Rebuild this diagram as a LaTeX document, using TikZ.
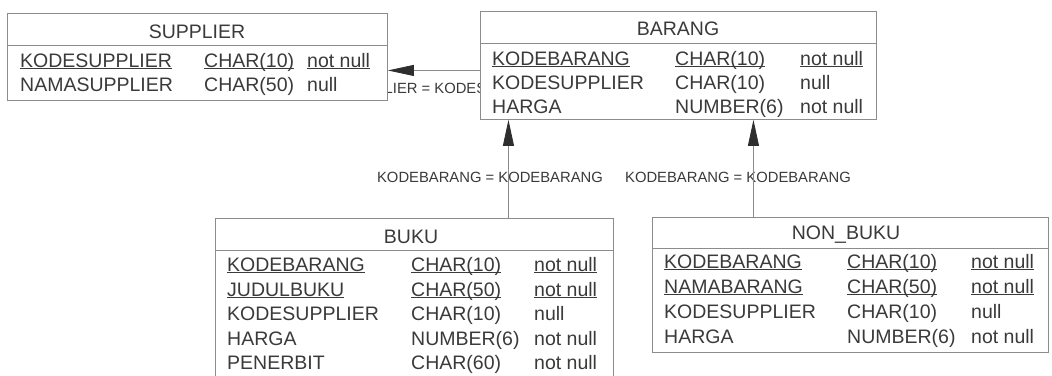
\documentclass[tikz,border=0pt]{standalone}
\usepackage{fontspec}
\setmainfont{Liberation Sans}
\usetikzlibrary{arrows.meta}
\definecolor{txt}{HTML}{3A3A3A}
\definecolor{frame}{HTML}{8C8C8C}
\definecolor{conn}{HTML}{8E8A8C}
\definecolor{head}{HTML}{2E2E2E}
\newcommand\keyul[1]{\underline{\smash{#1}}}
\tikzset{
  tbl/.style={draw=frame, fill=white, line width=0.9pt, inner sep=0pt, anchor=north west},
  divider/.style={draw=frame, line width=0.9pt},
  cell/.style={inner sep=0pt, anchor=base west, text=txt, font=\fontsize{19.5}{24}\selectfont},
  ttl/.style={inner sep=0pt, anchor=base, text=txt, font=\fontsize{19.5}{24}\selectfont},
  lbl/.style={inner sep=0pt, anchor=base, text=txt, font=\fontsize{14.8}{18}\selectfont},
  fk/.style={draw=conn, line width=0.8pt, -{Triangle[length=26pt,width=11pt,color=head]}},
}
\begin{document}
\begin{tikzpicture}[x=1pt,y=-1pt]
\clip (0,0) rectangle (1052,375);
\fill[white] (0,0) rectangle (1052,375);

% connector labels (behind the tables)
\node[lbl] (l1) at (426,93) {KODESUPPLIER = KODESUPPLIER};
\node[lbl] (l2) at (490,182) {KODEBARANG = KODEBARANG};
\node[lbl] (l3) at (738,182) {KODEBARANG = KODEBARANG};

% tables
\node[tbl, minimum width=380pt, minimum height=87pt] (supplier) at (7,13) {};
\node[tbl, minimum width=396pt, minimum height=108pt] (barang) at (480,11) {};
\node[tbl, minimum width=398pt, minimum height=180pt] (buku) at (215,218) {};
\node[tbl, minimum width=396pt, minimum height=135pt] (nonbuku) at (652,217) {};

\path (supplier.north west) ++(0,32) coordinate (sd);
\path (barang.north west) ++(0,32) coordinate (bd);
\path (buku.north west) ++(0,32) coordinate (kd);
\path (nonbuku.north west) ++(0,31) coordinate (nd);
\draw[divider] (sd) -- (sd -| supplier.east);
\draw[divider] (bd) -- (bd -| barang.east);
\draw[divider] (kd) -- (kd -| buku.east);
\draw[divider] (nd) -- (nd -| nonbuku.east);

% connectors
\coordinate (fk1) at ([yshift=-5pt]barang.west);
\draw[fk] (fk1) -- (fk1 -| supplier.east);
\coordinate (fk2) at ([xshift=94pt]buku.north);
\draw[fk] (fk2) -- (fk2 |- barang.south);
\coordinate (fk3) at ([xshift=-97pt]nonbuku.north);
\draw[fk] (fk3) -- (fk3 |- barang.south);

% titles
\node[ttl] (t-sup) at (197,38) {SUPPLIER};
\node[ttl] (t-bar) at (678,35) {BARANG};
\node[ttl] (t-buk) at (411,243) {BUKU};
\node[ttl] (t-non) at (846,239) {NON\_BUKU};

% SUPPLIER rows
\foreach \i/\y/\a/\b/\c in {1/67/\keyul{KODESUPPLIER}/\keyul{CHAR(10)}/\keyul{not null},
                             2/91/NAMASUPPLIER/CHAR(50)/null}{
  \node[cell] (sa\i) at (20,\y) {\a};
  \node[cell] (sb\i) at (204,\y) {\b};
  \node[cell] (sc\i) at (307,\y) {\c};
}
% BARANG rows
\foreach \i/\y/\a/\b/\c in {1/65/\keyul{KODEBARANG}/\keyul{CHAR(10)}/\keyul{not null},
                             2/89/KODESUPPLIER/CHAR(10)/null,
                             3/113/HARGA/NUMBER(6)/not null}{
  \node[cell] (ba\i) at (492,\y) {\a};
  \node[cell] (bb\i) at (675,\y) {\b};
  \node[cell] (bc\i) at (800,\y) {\c};
}
% BUKU rows
\foreach \i/\y/\a/\b/\c in {1/271/\keyul{KODEBARANG}/\keyul{CHAR(10)}/\keyul{not null},
                             2/296/\keyul{JUDULBUKU}/\keyul{CHAR(50)}/\keyul{not null},
                             3/320/KODESUPPLIER/CHAR(10)/null,
                             4/345/HARGA/NUMBER(6)/not null,
                             5/369/PENERBIT/CHAR(60)/not null}{
  \node[cell] (ka\i) at (227,\y) {\a};
  \node[cell] (kb\i) at (411,\y) {\b};
  \node[cell] (kc\i) at (534,\y) {\c};
}
% NON_BUKU rows
\foreach \i/\y/\a/\b/\c in {1/268/\keyul{KODEBARANG}/\keyul{CHAR(10)}/\keyul{not null},
                             2/293/\keyul{NAMABARANG}/\keyul{CHAR(50)}/\keyul{not null},
                             3/318/KODESUPPLIER/CHAR(10)/null,
                             4/343/HARGA/NUMBER(6)/not null}{
  \node[cell] (na\i) at (664,\y) {\a};
  \node[cell] (nb\i) at (847,\y) {\b};
  \node[cell] (nc\i) at (971,\y) {\c};
}
\end{tikzpicture}
\end{document}
